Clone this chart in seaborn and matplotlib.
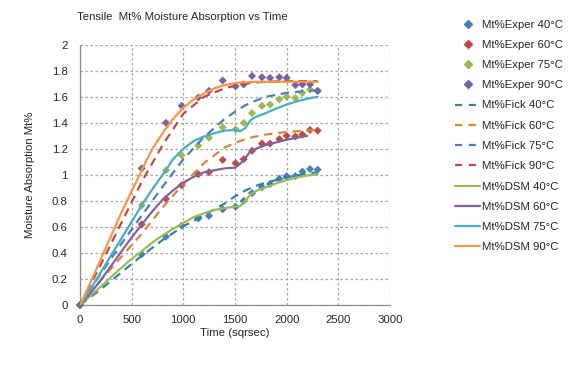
import matplotlib
matplotlib.use("Agg")
import matplotlib.pyplot as plt
import seaborn as sns
import numpy as np
import pandas as pd

# ---------------- data ----------------
exp_time = [0, 597, 832, 984, 1145, 1248, 1381, 1506, 1584, 1665, 1761, 1839, 1929, 2000, 2084, 2152, 2226, 2300]
exper_40 = [0, 0.39, 0.525, 0.61, 0.665, 0.685, 0.735, 0.755, 0.80, 0.86, 0.905, 0.93, 0.97, 0.99, 0.99, 1.025, 1.045, 1.04]
exper_60 = [0, 0.62, 0.815, 0.92, 1.005, 1.02, 1.115, 1.09, 1.12, 1.185, 1.24, 1.24, 1.275, 1.30, 1.295, 1.31, 1.345, 1.34]
exper_75 = [0, 0.765, 1.035, 1.15, 1.225, 1.285, 1.365, 1.35, 1.40, 1.475, 1.53, 1.54, 1.58, 1.60, 1.59, 1.63, 1.655, 1.645]
exper_90 = [0, 1.05, 1.40, 1.53, 1.595, 1.645, 1.725, 1.68, 1.695, 1.76, 1.75, 1.745, 1.75, 1.745, 1.69, 1.695, 1.695, 1.645]

fick_time = [0, 200, 400, 600, 800, 1000, 1200, 1400, 1500, 1600, 1700, 1800, 2000, 2200, 2300]
fick_40 = [0, 0.12, 0.25, 0.38, 0.50, 0.605, 0.69, 0.78, 0.835, 0.88, 0.915, 0.94, 0.98, 1.01, 1.02]
fick_60 = [0, 0.19, 0.37, 0.55, 0.75, 0.93, 1.09, 1.21, 1.245, 1.275, 1.295, 1.31, 1.33, 1.34, 1.345]
fick_75 = [0, 0.24, 0.47, 0.69, 0.91, 1.12, 1.29, 1.43, 1.485, 1.535, 1.57, 1.60, 1.63, 1.645, 1.65]
fick_90 = [0, 0.31, 0.63, 0.95, 1.23, 1.47, 1.60, 1.665, 1.685, 1.70, 1.71, 1.715, 1.72, 1.72, 1.72]

dsm_time = [0, 100, 200, 300, 400, 500, 600, 700, 800, 900, 1000, 1100, 1200, 1300, 1400,
            1500, 1550, 1600, 1650, 1700, 1800, 1900, 2000, 2100, 2200, 2300]
dsm_40 = [0, 0.07, 0.14, 0.215, 0.285, 0.355, 0.415, 0.48, 0.535, 0.585, 0.63, 0.675, 0.705, 0.73, 0.745,
          0.755, 0.76, 0.80, 0.85, 0.875, 0.905, 0.935, 0.96, 0.98, 0.995, 1.005]
dsm_60 = [0, 0.09, 0.19, 0.30, 0.41, 0.52, 0.62, 0.72, 0.81, 0.88, 0.94, 0.985, 1.02, 1.035, 1.05,
          1.055, 1.085, 1.13, 1.18, 1.20, 1.23, 1.25, 1.27, 1.285, 1.30, np.nan]
dsm_75 = [0, 0.12, 0.25, 0.38, 0.51, 0.64, 0.77, 0.89, 1.00, 1.12, 1.20, 1.26, 1.295, 1.32, 1.34,
          1.345, 1.335, 1.36, 1.42, 1.445, 1.475, 1.51, 1.54, 1.565, 1.585, 1.60]
dsm_90 = [0, 0.17, 0.35, 0.53, 0.71, 0.875, 1.04, 1.20, 1.32, 1.43, 1.515, 1.58, 1.625, 1.665, 1.69,
          1.705, 1.71, 1.71, 1.713, 1.715, 1.715, 1.715, 1.715, 1.715, 1.715, 1.715]

temps = ["40", "60", "75", "90"]
exper_series = [exper_40, exper_60, exper_75, exper_90]
fick_series = [fick_40, fick_60, fick_75, fick_90]
dsm_series = [dsm_40, dsm_60, dsm_75, dsm_90]

exper_colors = ["#4A7EBB", "#BE4B48", "#98B954", "#7D60A0"]
fick_colors = ["#31859C", "#D9853B", "#4A7EBB", "#BE4B48"]
dsm_colors = ["#9BBB59", "#8064A2", "#4BACC6", "#F79646"]

x_ticks = [0, 500, 1000, 1500, 2000, 2500, 3000]
y_ticks = [0, 0.2, 0.4, 0.6, 0.8, 1, 1.2, 1.4, 1.6, 1.8, 2]
y_tick_labels = ["0", "0.2", "0.4", "0.6", "0.8", "1", "1.2", "1.4", "1.6", "1.8", "2"]

# ---------------- style ----------------
sns.set_style("white")
plt.rcParams["font.family"] = ["Liberation Sans", "DejaVu Sans"]
FS = 8.2
TXT = "#262626"

W, H = 583, 375
fig = plt.figure(figsize=(W / 100, H / 100), dpi=100)
ax = fig.add_axes([80 / W, 1 - 305 / H, 310 / W, (305 - 44.7) / H])

handles = []
for t, ys, c in zip(temps, exper_series, exper_colors):
    sns.scatterplot(x=exp_time, y=ys, ax=ax, color=c, marker="D", s=17,
                    edgecolor="none", linewidth=0, clip_on=False, zorder=3)
    handles.append(plt.Line2D([], [], color=c, marker="D", markersize=3.6,
                              linestyle="none", label=f"Mt%Exper {t}°C"))

for t, ys, c in zip(temps, fick_series, fick_colors):
    sns.lineplot(x=fick_time, y=ys, ax=ax, color=c, lw=1.6,
                 linestyle=(0, (3.8, 2.6)), zorder=4)
    handles.append(plt.Line2D([], [], color=c, lw=1.6, linestyle=(0, (3.2, 3.0)),
                              label=f"Mt%Fick {t}°C"))

for t, ys, c in zip(temps, dsm_series, dsm_colors):
    df = pd.DataFrame({"x": dsm_time, "y": ys}).dropna()
    sns.lineplot(data=df, x="x", y="y", ax=ax, color=c, lw=1.6, zorder=5)
    handles.append(plt.Line2D([], [], color=c, lw=1.6, label=f"Mt%DSM {t}°C"))

ax.set_xlim(0, 3000)
ax.set_ylim(0, 2)
ax.set_xticks(x_ticks)
ax.set_xticklabels([str(v) for v in x_ticks])
ax.set_yticks(y_ticks)
ax.set_yticklabels(y_tick_labels)
ax.set_xlabel("")
ax.set_ylabel("")

ax.grid(True, color="#A6A6A6", lw=0.9, linestyle=(0, (2, 2)))
for s in ["top", "right"]:
    ax.spines[s].set_visible(False)
for s in ["left", "bottom"]:
    ax.spines[s].set_color("#8C8C8C")
    ax.spines[s].set_linewidth(0.9)
ax.tick_params(axis="both", direction="out", length=3, width=0.9, color="#8C8C8C",
               labelsize=FS, labelcolor=TXT)
ax.tick_params(axis="y", pad=6)
ax.tick_params(axis="x", pad=4)
ax.set_axisbelow(True)

fig.text(182 / W, 1 - 17 / H, "Tensile  Mt% Moisture Absorption vs Time",
         ha="center", va="center", fontsize=FS, color=TXT)
fig.text(235 / W, 1 - 333 / H, "Time (sqrsec)", ha="center", va="center",
         fontsize=FS, color=TXT)
fig.text(30 / W, 1 - 175 / H, "Moisture Absorption Mt%", ha="center", va="center",
         rotation=90, fontsize=FS, color=TXT)

leg = fig.legend(handles=handles, loc="upper left",
                 bbox_to_anchor=(455 / W, 1 - 19.5 / H), frameon=False,
                 fontsize=FS, handlelength=2.2, handletextpad=0.2,
                 labelspacing=0.9, borderpad=0, borderaxespad=0)
for txt in leg.get_texts():
    txt.set_color(TXT)

fig.savefig("out.png", dpi=100)
